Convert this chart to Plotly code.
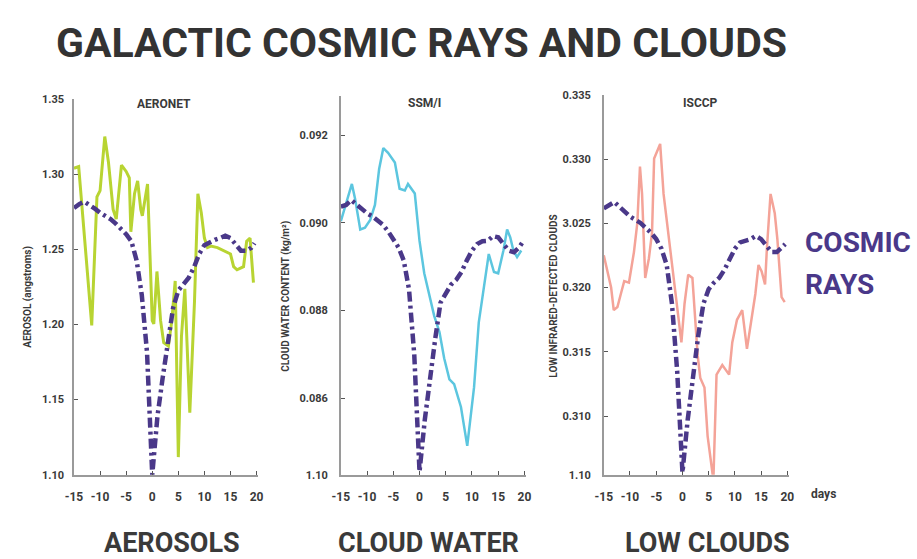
import plotly.graph_objects as go

# ---------------- data ----------------
days_ticks = [-15, -10, -5, 0, 5, 10, 15, 20]
day_tick_labels = ["-15", "-10", "-5", "0", "5", "10", "15", "20"]

cosmic_days = [-15, -14, -13, -12, -11, -10, -9, -8, -7, -6, -5, -4, -3, -2, -1, 0,
               1, 2, 3, 4, 5, 6, 7, 8, 9, 10, 11, 12, 13, 14, 15, 16, 17, 18, 19, 19.6]

# AERONET panel
cosmic_aerosol = [1.2774, 1.2800, 1.2816, 1.2795, 1.2770, 1.2743, 1.2722, 1.2700, 1.2670, 1.2637,
                  1.2600, 1.2553, 1.2426, 1.2194, 1.1814, 1.1000, 1.1390, 1.1645, 1.1857, 1.2110,
                  1.2226, 1.2268, 1.2310, 1.2380, 1.2468, 1.2527, 1.2549, 1.2563, 1.2574, 1.2590,
                  1.2574, 1.2532, 1.2490, 1.2490, 1.2510, 1.2540]
aeronet_days = [-15, -14.1, -11.6, -10.6, -10, -9.1, -8.4, -7.5, -6.9, -5.9, -5, -4.4, -4.1, -3.4,
                -2.8, -2.2, -1.9, -0.9, 0, 0.3, 0.9, 1.6, 2.2, 3.1, 3.75, 4.4, 5, 5.6, 6.25, 7.2,
                8.1, 8.75, 9.4, 10, 10.6, 11.25, 12.5, 13.75, 15, 15.6, 16.25, 17.5, 18.1, 18.75, 19.4]
aeronet = [1.3038, 1.3049, 1.1994, 1.2848, 1.2890, 1.3249, 1.3080, 1.2764, 1.2700, 1.3059,
           1.3017, 1.2975, 1.2616, 1.2869, 1.2954, 1.2764, 1.2722, 1.2933, 1.2025, 1.2004,
           1.2352, 1.2025, 1.1878, 1.1856, 1.2025, 1.2289, 1.1118, 1.1920, 1.2236, 1.1413,
           1.2152, 1.2869, 1.2743, 1.2574, 1.2511, 1.2521, 1.2511, 1.2490, 1.2468, 1.2384,
           1.2363, 1.2384, 1.2553, 1.2574, 1.2278]

# SSM/I panel
cosmic_water = [0.09037, 0.09041, 0.09052, 0.09041, 0.09030, 0.09022, 0.09015, 0.09007, 0.08996,
                0.08981, 0.08963, 0.08944, 0.08914, 0.08848, 0.08699, 0.08432, 0.08550, 0.08647,
                0.08736, 0.08818, 0.08840, 0.08859, 0.08870, 0.08888, 0.08914, 0.08937, 0.08952,
                0.08958, 0.08959, 0.08970, 0.08967, 0.08952, 0.08937, 0.08933, 0.08944, 0.08955]
ssmi_days = [-15, -12.9, -12.3, -11.3, -10.4, -9.4, -8.5, -7.7, -6.9, -6.0, -4.7, -3.8, -2.8, -2.2,
             -0.9, 0, 0.9, 1.9, 2.8, 3.8, 4.7, 5.7, 6.6, 7.9, 9.1, 10.4, 11.3, 12.3, 13.2, 14.2,
             15.0, 16.0, 16.7, 17.3, 17.9, 18.6, 19.4]
ssmi = [0.09004, 0.09089, 0.09056, 0.08985, 0.08989, 0.09007, 0.09041, 0.09123, 0.09171, 0.09160,
        0.09138, 0.09078, 0.09074, 0.09089, 0.09067, 0.08959, 0.08885, 0.08833, 0.08788, 0.08751,
        0.08691, 0.08643, 0.08632, 0.08580, 0.08491, 0.08625, 0.08773, 0.08855, 0.08929, 0.08888,
        0.08885, 0.08937, 0.08985, 0.08967, 0.08937, 0.08922, 0.08937]

# ISCCP panel
cosmic_clouds = [0.32616, 0.32641, 0.32666, 0.32628, 0.32590, 0.32553, 0.32528, 0.32503, 0.32465,
                 0.32427, 0.32377, 0.32302, 0.32176, 0.31874, 0.31347, 0.30560, 0.30970, 0.31322,
                 0.31623, 0.31874, 0.31987, 0.32038, 0.32075, 0.32138, 0.32226, 0.32302, 0.32352,
                 0.32364, 0.32377, 0.32402, 0.32377, 0.32327, 0.32276, 0.32276, 0.32314, 0.32339]
isccp_days = [-15, -14.25, -13.6, -13.1, -12.4, -11.75, -11.1, -10.2, -9.25, -8.6, -8.1, -7.7, -7.1,
              -6.4, -5.8, -5.4, -4.25, -3.6, -3.0, -2.4, -1.6, -1.0, -0.2, 0.4, 1.1, 1.9, 2.5, 2.9,
              3.4, 4.2, 4.8, 5.4, 5.9, 6.5, 7.6, 8.9, 9.5, 10.4, 11.4, 12.3, 12.9, 13.9, 14.5, 15.1,
              15.75, 16.1, 16.8, 17.6, 18.1, 18.9, 19.5]
isccp = [0.32251, 0.32126, 0.32000, 0.31824, 0.31849, 0.31950, 0.32050, 0.32038, 0.32276, 0.32503,
         0.32942, 0.32729, 0.32075, 0.32226, 0.32427, 0.33005, 0.33118, 0.32729, 0.32528, 0.32302,
         0.32075, 0.31874, 0.31573, 0.31874, 0.32100, 0.32075, 0.31749, 0.31472, 0.31296, 0.31221,
         0.30844, 0.30668, 0.30500, 0.31322, 0.31397, 0.31322, 0.31573, 0.31749, 0.31824, 0.31523,
         0.31673, 0.31950, 0.32176, 0.32126, 0.32025, 0.32302, 0.32729, 0.32578, 0.32377, 0.31925,
         0.31887]

# y tick positions / labels (as printed on the original graphic)
aer_ticks = [1.10, 1.15, 1.20, 1.25, 1.30, 1.35]
aer_tick_labels = ["1.10", "1.15", "1.20", "1.25", "1.30", "1.35"]
wat_ticks = [0.08425, 0.086, 0.088, 0.090, 0.092, 0.0929]
wat_tick_labels = ["1.10", "0.086", "0.088", "0.090", "0.092", ""]
cld_ticks = [0.30542, 0.310, 0.315, 0.320, 0.325, 0.330, 0.335]
cld_tick_labels = ["1.10", "0.310", "0.315", "0.320", "3.025", "0.330", "0.335"]

# ---------------- styling ----------------
W, H = 917, 559
FONT = "Roboto, 'Liberation Sans Narrow', sans-serif"
PURPLE = "#4a3889"
GREEN = "#b8d432"
CYAN = "#5cc6df"
PINK = "#f4a398"
AXIS = "#9a9a9a"
TXT = "#3a3a3a"


def px_x(p):
    return p / W


def px_y(p):
    return 1 - p / H


panels = [
    dict(x=(66, 253), y=(95, 480), yr=[1.10, 1.35], tv=aer_ticks, tt=aer_tick_labels, so=6),
    dict(x=(337, 525), y=(92, 480), yr=[0.08425, 0.0929], tv=wat_ticks, tt=wat_tick_labels, so=9),
    dict(x=(604, 792), y=(91, 480), yr=[0.30542, 0.335], tv=cld_ticks, tt=cld_tick_labels, so=9),
]

fig = go.Figure()

series = [
    (aeronet_days, aeronet, cosmic_aerosol, GREEN, 3),
    (ssmi_days, ssmi, cosmic_water, CYAN, 2.5),
    (isccp_days, isccp, cosmic_clouds, PINK, 2.5),
]

for i, (dx, dy, cr, col, lw) in enumerate(series):
    xa = "x" if i == 0 else f"x{i+1}"
    ya = "y" if i == 0 else f"y{i+1}"
    fig.add_trace(go.Scatter(x=dx, y=dy, mode="lines", xaxis=xa, yaxis=ya,
                             line=dict(color=col, width=lw), showlegend=False,
                             hoverinfo="skip"))
    fig.add_trace(go.Scatter(x=cosmic_days, y=cr, mode="lines", xaxis=xa, yaxis=ya,
                             line=dict(color=PURPLE, width=4.5, dash="10px,4px,3px,4px"),
                             showlegend=False, hoverinfo="skip"))

layout = dict(
    width=W, height=H, autosize=False,
    margin=dict(l=0, r=0, t=0, b=0),
    paper_bgcolor="white", plot_bgcolor="white",
    font=dict(family=FONT, color=TXT, weight="bold"),
)

for i, p in enumerate(panels):
    sfx = "" if i == 0 else str(i + 1)
    layout["xaxis" + sfx] = dict(
        domain=[px_x(p["x"][0]), px_x(p["x"][1])], anchor="y" + sfx,
        range=[-15, 20.3], tickvals=days_ticks, ticktext=day_tick_labels,
        showgrid=False, zeroline=False, showline=True, linecolor=AXIS, linewidth=1.5,
        ticks="inside", ticklen=4, tickcolor="#555", tickwidth=1,
        tickfont=dict(family=FONT, size=12, color=TXT, weight="bold"),
        ticklabelstandoff=10,
    )
    layout["yaxis" + sfx] = dict(
        domain=[px_y(p["y"][1]), px_y(p["y"][0])], anchor="x" + sfx,
        range=p["yr"], tickvals=p["tv"], ticktext=p["tt"],
        showgrid=False, zeroline=False, showline=True, linecolor=AXIS, linewidth=1.5,
        ticks="inside", ticklen=4, tickcolor="#555", tickwidth=1,
        tickfont=dict(family=FONT, size=11, color=TXT, weight="bold"),
        ticklabelstandoff=p["so"],
    )

fig.update_layout(**layout)

ann = []


def text(s, x, y, size, color=TXT, angle=0, xanchor="center", yanchor="middle"):
    ann.append(dict(text=s, x=px_x(x), y=px_y(y), xref="paper", yref="paper",
                    showarrow=False, textangle=angle, xanchor=xanchor, yanchor=yanchor,
                    font=dict(family=FONT, size=size, color=color, weight="bold")))


text("GALACTIC COSMIC RAYS AND CLOUDS", 419, 38, 41, color="#333333")
text("AERONET", 157, 100, 12)
text("SSM/I", 422, 99, 12)
text("ISCCP", 702, 99, 12)
text("AEROSOL (angstroms)", 19, 298, 10, angle=-90)
text("CLOUD WATER CONTENT (kg/m²)", 281, 297, 10, angle=-90)
text("LOW INFRARED-DETECTED CLOUDS", 553, 297, 10, angle=-90)
text("days", 827, 500, 12)
text("COSMIC", 806, 242, 28, color=PURPLE, xanchor="left")
text("RAYS", 806, 285, 28, color=PURPLE, xanchor="left")
text("AEROSOLS", 166, 550, 27)
text("CLOUD WATER", 426, 550, 27)
text("LOW CLOUDS", 709, 550, 27)

fig.update_layout(annotations=ann)

fig.write_html("out.html", config={"displayModeBar": False},
               post_script="document.body.style.margin='0';document.body.style.padding='0';")
